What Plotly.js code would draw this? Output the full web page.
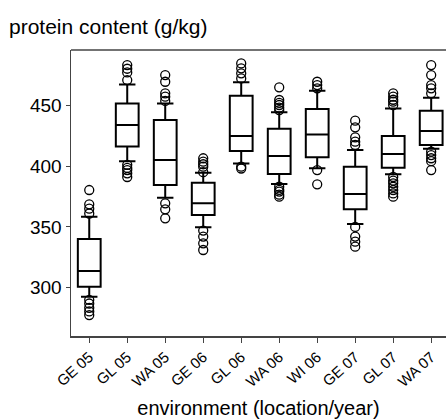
<!DOCTYPE html>
<html>
<head>
<meta charset="utf-8">
<script src="https://cdn.plot.ly/plotly-3.0.1.min.js"></script>
<style>html,body{margin:0;padding:0;background:#fff;}#chart{width:446px;height:419px;}</style>
</head>
<body>
<div id="chart"></div>
<script>
// Categories (environment: location/year)
const categories = ["GE 05","GL 05","WA 05","GE 06","GL 06","WA 06","WI 06","GE 07","GL 07","WA 07"];

// Box statistics (g/kg)
const lowerWhisker = [292.6, 404, 374, 349.6, 402.2, 385.2, 398.1, 352.4, 393.2, 414.2];
const q1Values     = [300.8, 416, 384.4, 359.8, 412.4, 393.5, 407.2, 364.4, 398.6, 417.3];
const medianValues = [313.7, 433.7, 405, 369.4, 424.7, 408.2, 426, 377, 409.9, 428.8];
const q3Values     = [340, 451.5, 437.8, 386.3, 457.8, 430.7, 446.9, 399.5, 424.7, 445.5];
const upperWhisker = [358.4, 467, 451.5, 394.5, 468.8, 444.2, 461.9, 413.2, 447.4, 456.2];

// Outliers per environment
const outGE05 = [380.3, 368.5, 365, 361, 290, 287, 283.5, 280.5, 277.5];
const outGL05 = [483, 480, 477, 470.7, 401, 398.5, 396.7, 394, 391];
const outWA05 = [474.8, 469.3, 459.8, 457, 453.5, 369.4, 364.4, 357];
const outGE06 = [406.4, 403.6, 401.5, 399.5, 395, 347, 342, 336.5, 331];
const outGL06 = [484.4, 480.3, 476.2, 472, 399.5, 398];
const outWA06 = [464.7, 454.3, 452, 450.2, 448, 446, 383, 380.5, 379, 376.5, 374.8];
const outWI06 = [469.3, 466.6, 463.9, 396.7, 385];
const outGE07 = [437.3, 431.8, 423.6, 420, 417.3, 350, 342, 337.8, 333.7];
const outGL07 = [459.8, 457, 454.5, 452.9, 450.2, 391, 388, 385.8, 383, 380.3, 377.5, 374.8];
const outWA07 = [483, 474.8, 466.6, 463.9, 459.8, 411.8, 409, 406.4, 404, 396.7];
const outlierSets = [outGE05, outGL05, outWA05, outGE06, outGL06, outWA06, outWI06, outGE07, outGL07, outWA07];

const outX = [], outY = [];
outlierSets.forEach((arr, i) => arr.forEach(v => { outX.push(categories[i]); outY.push(v); }));

const boxTrace = {
  type: "box",
  x: categories,
  q1: q1Values,
  median: medianValues,
  q3: q3Values,
  lowerfence: lowerWhisker,
  upperfence: upperWhisker,
  boxpoints: false,
  width: 0.6,
  whiskerwidth: 0.72,
  fillcolor: "rgba(255,255,255,0)",
  line: {color: "#000", width: 2},
  hoverinfo: "skip",
  showlegend: false
};

const outlierTrace = {
  type: "scatter",
  mode: "markers",
  x: outX,
  y: outY,
  marker: {symbol: "circle-open", size: 9, color: "#000", line: {width: 1.3, color: "#000"}},
  showlegend: false,
  hoverinfo: "y"
};

const layout = {
  width: 446,
  height: 419,
  margin: {l: 71, r: 0, t: 50, b: 83},
  paper_bgcolor: "#fff",
  plot_bgcolor: "#fff",
  font: {family: "Liberation Sans, Arial, sans-serif", color: "#000"},
  title: {
    text: "protein content (g/kg)",
    font: {size: 21, family: "Liberation Sans, Arial, sans-serif", color: "#000"},
    x: 9/446, xref: "container", xanchor: "left",
    y: 1 - 27/419, yref: "container", yanchor: "middle"
  },
  xaxis: {
    type: "category",
    categoryorder: "array",
    categoryarray: categories,
    range: [-0.48, 9.39],
    showgrid: false,
    zeroline: false,
    showline: true,
    linecolor: "#444",
    linewidth: 1.5,
    ticks: "outside",
    ticklen: 5,
    tickcolor: "#444",
    tickangle: -42,
    tickfont: {size: 15},
    title: {text: "environment (location/year)", font: {size: 20}, standoff: 12}
  },
  yaxis: {
    range: [260.3, 495.4],
    tickvals: [300, 350, 400, 450],
    showgrid: false,
    zeroline: false,
    showline: true,
    linecolor: "#444",
    linewidth: 1.5,
    ticks: "outside",
    ticklen: 4,
    tickcolor: "#444",
    tickfont: {size: 19}
  },
  shapes: [
    {type: "line", xref: "paper", yref: "paper", x0: 0, x1: 1, y0: 1, y1: 1, line: {color: "#444", width: 1.5}}
  ]
};

Plotly.newPlot("chart", [boxTrace, outlierTrace], layout, {displayModeBar: false, staticPlot: true});
</script>
</body>
</html>
